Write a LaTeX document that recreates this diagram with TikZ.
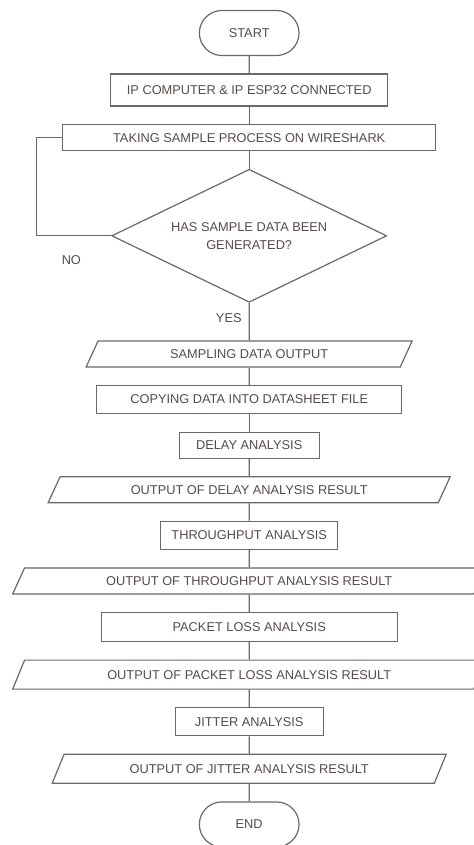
\documentclass[tikz,border=0pt]{standalone}
\usepackage{fontspec}
\setmainfont{Liberation Sans}
\usetikzlibrary{positioning, shapes.geometric, shapes.misc}
\definecolor{linegray}{RGB}{105,105,105}
\definecolor{textgray}{RGB}{85,75,72}

\begin{document}
\begin{tikzpicture}[
    node distance=8.7pt,
    every node/.style={font=\fontsize{6.4pt}{9pt}\selectfont, text=textgray},
    line/.style={draw=linegray, line width=0.6pt},
    terminal/.style={rounded rectangle, draw=linegray, line width=0.6pt, minimum width=56.5pt, minimum height=22.5pt},
    process/.style={rectangle, draw=linegray, line width=0.6pt, minimum height=14pt},
    io/.style={trapezium, trapezium left angle=62, trapezium right angle=118, trapezium stretches body, draw=linegray, line width=0.6pt, minimum height=13pt},
    decision/.style={diamond, draw=linegray, line width=0.6pt, aspect=2.07, minimum width=137.5pt, minimum height=66.5pt, inner sep=0pt, align=center},
]
\useasboundingbox (0,0) rectangle (237pt,-422.5pt);

% Nodes
\node [terminal] (start) at (124.6pt,-16.5pt) {START};
\node [process, below=of start, minimum width=138.5pt, minimum height=16pt] (ipconn) {IP COMPUTER \& IP ESP32 CONNECTED};
\node [process, below=of ipconn, minimum width=186.5pt, minimum height=13pt] (wireshark) {TAKING SAMPLE PROCESS ON WIRESHARK};
\node [decision, below=of wireshark] (generated) {HAS SAMPLE DATA BEEN\\GENERATED?};
\node [io, below=18.7pt of generated, minimum width=163pt] (sampling) {SAMPLING DATA OUTPUT};
\node [process, below=of sampling, minimum width=152.5pt] (copying) {COPYING DATA INTO DATASHEET FILE};
\node [process, below=of copying, minimum width=70pt, minimum height=13pt] (delay) {DELAY ANALYSIS};
\node [io, below=of delay, minimum width=201pt] (outdelay) {OUTPUT OF DELAY ANALYSIS RESULT};
\node [process, below=of outdelay, minimum width=88.5pt] (throughput) {THROUGHPUT ANALYSIS};
\node [io, below=of throughput, minimum width=236.5pt] (outthroughput) {OUTPUT OF THROUGHPUT ANALYSIS RESULT};
\node [process, below=of outthroughput, minimum width=148pt, minimum height=14.5pt] (packetloss) {PACKET LOSS ANALYSIS};
\node [io, below=of packetloss, minimum width=236.5pt, minimum height=14.5pt] (outpacketloss) {OUTPUT OF PACKET LOSS ANALYSIS RESULT};
\node [process, below=of outpacketloss, minimum width=74pt] (jitter) {JITTER ANALYSIS};
\node [io, below=of jitter, minimum width=197pt, minimum height=14.5pt] (outjitter) {OUTPUT OF JITTER ANALYSIS RESULT};
\node [terminal, below=of outjitter] (stop) {END};

% Lines
\path [line] (start) edge (ipconn);
\path [line] (ipconn) edge (wireshark);
\path [line] (wireshark) edge (generated);
\path [line] (generated) edge node[left=3.5pt, pos=0.4, inner sep=0pt] {YES} (sampling);
\path [line] (sampling) edge (copying);
\path [line] (copying) edge (delay);
\path [line] (delay) edge (outdelay);
\path [line] (outdelay) edge (throughput);
\path [line] (throughput) edge (outthroughput);
\path [line] (outthroughput) edge (packetloss);
\path [line] (packetloss) edge (outpacketloss);
\path [line] (outpacketloss) edge (jitter);
\path [line] (jitter) edge (outjitter);
\path [line] (outjitter) edge (stop);
\draw [line] (generated.west) -- node[below=9.5pt, pos=0.53, inner sep=0pt] {NO} ++(-37.5pt,0) |- (wireshark.west);

\end{tikzpicture}
\end{document}
